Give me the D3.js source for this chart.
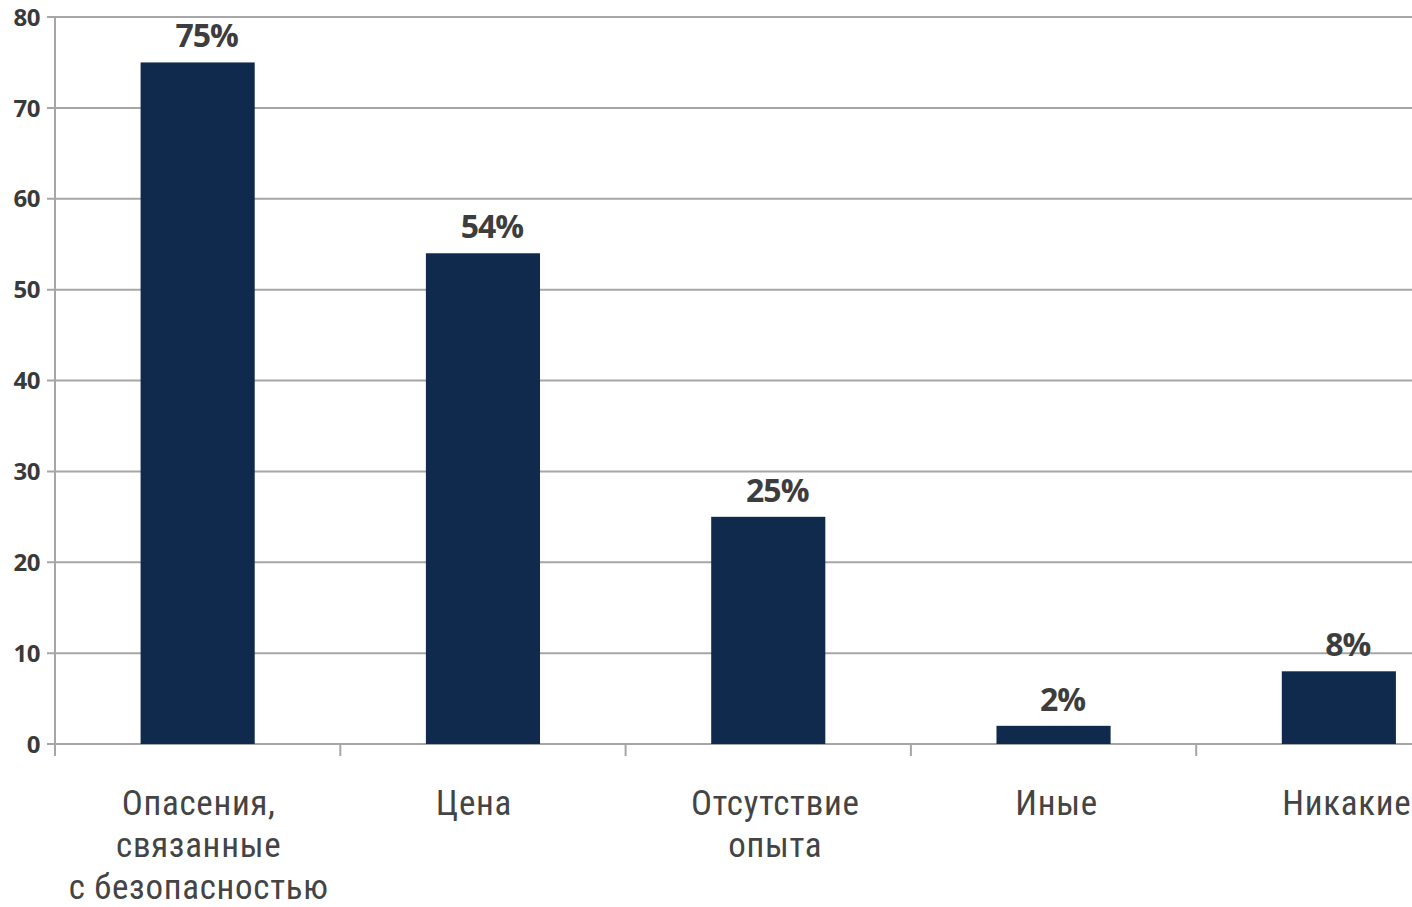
<!DOCTYPE html>
<html><head><meta charset="utf-8">
<script src="https://cdn.jsdelivr.net/npm/d3@7"></script>
<style>body{margin:0;background:#fff}svg{display:block}</style>
</head><body>
<svg id="c" width="1412" height="907"></svg>
<script>
const categories = [["Опасения,","связанные","с безопасностью"],["Цена"],["Отсутствие","опыта"],["Иные"],["Никакие"]];
const values = [75, 54, 25, 2, 8];
const valueLabels = ["75%","54%","25%","2%","8%"];
const yTicks = [0,10,20,30,40,50,60,70,80];

(function(){
const svg = d3.select("#c");
const W = 1412, H = 907;
const mLeft = 55, mTop = 17, mBottom = 744;
const step = 285.3;
const x = d3.scaleBand().domain(d3.range(values.length)).range([mLeft, mLeft + step*values.length]).paddingInner(0.6).paddingOuter(0.3);
const y = d3.scaleLinear().domain([0,80]).range([mBottom, mTop]);
const grid = "#a6a6a6";
const nudge = [1, -9, 7, 3, 8];

svg.append("g").selectAll("line").data(yTicks).join("line")
  .attr("x1", mLeft - 8).attr("x2", W).attr("y1", d=>y(d)).attr("y2", d=>y(d))
  .attr("stroke", grid).attr("stroke-width", 2);
svg.append("line").attr("x1", mLeft).attr("x2", mLeft).attr("y1", mTop).attr("y2", mBottom + 12)
  .attr("stroke", grid).attr("stroke-width", 2);
svg.append("g").selectAll("line").data(d3.range(values.length)).join("line")
  .attr("x1", i => mLeft + step*i).attr("x2", i => mLeft + step*i)
  .attr("y1", mBottom).attr("y2", mBottom + 12)
  .attr("stroke", grid).attr("stroke-width", 2);
svg.append("g").selectAll("text").data(yTicks).join("text")
  .attr("x", 40).attr("y", d=>y(d)).attr("dy", "0.36em").attr("text-anchor","end")
  .attr("font-family","'Open Sans', sans-serif").attr("font-weight","bold").attr("font-size", 24)
  .attr("letter-spacing","-0.5").attr("fill","#3a3a3a").text(d=>d);
svg.append("g").selectAll("rect").data(values).join("rect")
  .attr("x",(d,i)=>x(i)).attr("width", x.bandwidth())
  .attr("y", d=>y(d)).attr("height", d=>y(0)-y(d)).attr("fill","#0f2a4c");
svg.append("g").selectAll("text").data(values).join("text")
  .attr("x",(d,i)=>x(i)+x.bandwidth()/2+9).attr("y", d=>y(d)-15).attr("text-anchor","middle")
  .attr("font-family","'Open Sans', sans-serif").attr("font-weight","bold").attr("font-size", 32)
  .attr("letter-spacing","-1").attr("fill","#3d3d3d").text((d,i)=>valueLabels[i]);
const cg = svg.append("g");
categories.forEach((lines,i)=>{
  const cx = x(i)+x.bandwidth()/2 + nudge[i];
  const t = cg.append("text").attr("text-anchor","middle")
    .attr("font-family","'Liberation Sans Narrow','Roboto Condensed','Open Sans', sans-serif")
    .attr("font-size", 35).attr("letter-spacing", "0.7").attr("fill","#444");
  lines.forEach((l,j)=>t.append("tspan").attr("x", cx).attr("y", 815 + j*42).text(l));
});
})();
</script>
</body></html>
